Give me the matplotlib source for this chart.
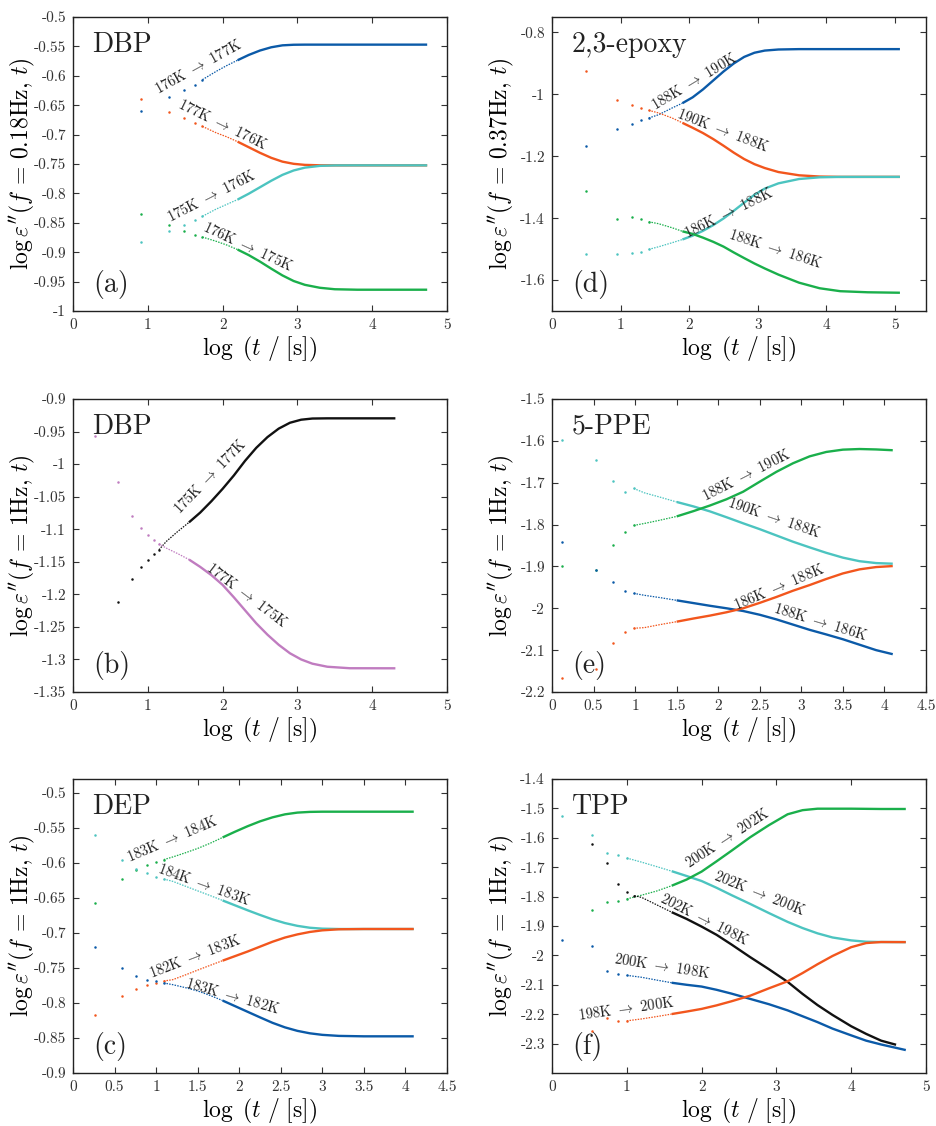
import numpy as np
import matplotlib
matplotlib.use('Agg')
import matplotlib.pyplot as plt
from matplotlib.ticker import FuncFormatter

plt.rcParams['font.family'] = 'cmr10'
plt.rcParams['mathtext.fontset'] = 'cm'
plt.rcParams['axes.unicode_minus'] = False
plt.rcParams['axes.formatter.use_mathtext'] = False

BLUE = '#0b5aa8'
ORANGE = '#f2561d'
CYAN = '#4cc4c0'
GREEN = '#1aaf4b'
PURPLE = '#c07cc0'
BLACK = '#111111'

# ---- (a) DBP, f = 0.18 Hz ----
a_x = [0.913, 1.29, 1.49, 1.63, 1.73, 1.915, 2.05, 2.2, 2.35, 2.5, 2.65, 2.8, 2.95, 3.1, 3.3, 3.5, 3.8, 4.735]
a_blue = [-0.660, -0.6366, -0.6236, -0.615, -0.6066, -0.5924, -0.583, -0.5735, -0.5645, -0.557, -0.5515, -0.5482, -0.5472, -0.547, -0.547, -0.547, -0.547, -0.547]
a_orange = [-0.6395, -0.6616, -0.6724, -0.680, -0.686, -0.697, -0.7035, -0.712, -0.7215, -0.731, -0.7395, -0.746, -0.7497, -0.7515, -0.7522, -0.7523, -0.7523, -0.7523]
a_cyan = [-0.8827, -0.8634, -0.8538, -0.8447, -0.839, -0.8266, -0.819, -0.8105, -0.8005, -0.7895, -0.7785, -0.7685, -0.761, -0.7562, -0.7532, -0.7524, -0.7523, -0.7523]
a_green = [-0.8352, -0.8533, -0.8635, -0.870, -0.8742, -0.8815, -0.8875, -0.8955, -0.905, -0.916, -0.928, -0.9395, -0.949, -0.9555, -0.9605, -0.963, -0.9638, -0.9638]

# ---- (b) DBP, f = 1 Hz ----
b_x = [0.601, 0.784, 0.904, 1.0, 1.08, 1.149, 1.247, 1.4, 1.55, 1.7, 1.85, 2.0, 2.15, 2.3, 2.45, 2.6, 2.75, 2.9, 3.05, 3.2, 3.4, 3.7, 4.31]
b_black = [-1.2119, -1.1766, -1.1582, -1.147, -1.1383, -1.1316, -1.1188, -1.1035, -1.0895, -1.0745, -1.057, -1.038, -1.0175, -0.995, -0.975, -0.9585, -0.9455, -0.9365, -0.9318, -0.930, -0.9297, -0.9297, -0.9297]
b_purple_x = [0.298] + b_x
b_purple = [-0.9562, -1.0268, -1.0795, -1.0984, -1.1096, -1.1173, -1.1224, -1.129, -1.1375, -1.1465, -1.1578, -1.1705, -1.1855, -1.2045, -1.2245, -1.2445, -1.262, -1.2775, -1.2905, -1.300, -1.3065, -1.3112, -1.3135, -1.3136]

# ---- (c) DEP, f = 1 Hz ----
c_x = [0.26, 0.588, 0.764, 0.892, 1.0, 1.092, 1.2, 1.35, 1.5, 1.65, 1.8, 1.95, 2.1, 2.25, 2.4, 2.55, 2.7, 2.85, 3.0, 3.2, 3.5, 4.1]
c_green = [-0.6571, -0.6224, -0.6095, -0.6024, -0.5986, -0.5952, -0.5914, -0.5855, -0.5792, -0.5718, -0.5635, -0.5553, -0.5475, -0.5405, -0.5348, -0.5305, -0.528, -0.527, -0.5267, -0.5267, -0.5267, -0.5267]
c_cyan = [-0.5605, -0.5952, -0.6081, -0.6148, -0.6195, -0.6229, -0.6262, -0.633, -0.6398, -0.6465, -0.6535, -0.6605, -0.6675, -0.6742, -0.6805, -0.6858, -0.6898, -0.6925, -0.6938, -0.6943, -0.6943, -0.6943]
c_orange = [-0.8167, -0.7895, -0.7795, -0.7743, -0.7714, -0.7686, -0.7667, -0.760, -0.753, -0.7462, -0.7395, -0.733, -0.7265, -0.7195, -0.7125, -0.7065, -0.702, -0.6985, -0.6962, -0.6947, -0.6943, -0.6943]
c_blue = [-0.7205, -0.750, -0.7619, -0.7667, -0.769, -0.7714, -0.7738, -0.778, -0.7828, -0.7892, -0.7965, -0.8045, -0.8125, -0.8205, -0.8283, -0.8348, -0.8398, -0.8433, -0.8455, -0.847, -0.8476, -0.8476]

# ---- (d) 2,3-epoxy, f = 0.37 Hz ----
d_x = [0.5, 0.94, 1.163, 1.30, 1.41, 1.556, 1.75, 1.9, 2.05, 2.2, 2.35, 2.5, 2.65, 2.8, 2.95, 3.1, 3.3, 3.6, 3.9, 4.2, 4.6, 5.07]
d_blue = [-1.1656, -1.1129, -1.0957, -1.0839, -1.0763, -1.0656, -1.044, -1.0285, -1.0095, -0.984, -0.955, -0.926, -0.900, -0.879, -0.8655, -0.8585, -0.855, -0.8538, -0.8538, -0.8538, -0.8538, -0.8538]
d_orange = [-0.9237, -1.0172, -1.0333, -1.044, -1.0516, -1.0602, -1.0763, -1.092, -1.108, -1.125, -1.1445, -1.166, -1.1885, -1.209, -1.2255, -1.238, -1.251, -1.2615, -1.2655, -1.2666, -1.2666, -1.2666]
d_cyan = [-1.517, -1.517, -1.5138, -1.5084, -1.5009, -1.4923, -1.4794, -1.469, -1.4565, -1.441, -1.4225, -1.401, -1.376, -1.350, -1.3245, -1.3045, -1.2875, -1.2735, -1.268, -1.2667, -1.2666, -1.2666]
d_green = [-1.3108, -1.402, -1.3957, -1.4041, -1.4117, -1.4181, -1.431, -1.4425, -1.451, -1.463, -1.4765, -1.492, -1.511, -1.529, -1.5465, -1.5625, -1.5825, -1.6085, -1.6265, -1.636, -1.6395, -1.641]

# ---- (e) 5-PPE, f = 1 Hz ----
e_x = [0.12, 0.526, 0.737, 0.876, 0.984, 1.112, 1.3, 1.5, 1.7, 1.9, 2.1, 2.3, 2.5, 2.7, 2.9, 3.1, 3.3, 3.5, 3.7, 3.9, 4.1]
e_cyan = [-1.5986, -1.6463, -1.6948, -1.7218, -1.7138, -1.7242, -1.7345, -1.746, -1.7565, -1.7685, -1.7825, -1.797, -1.811, -1.826, -1.841, -1.8545, -1.8675, -1.879, -1.8875, -1.892, -1.8935]
e_green = [-1.900, -1.9094, -1.8498, -1.8172, -1.8021, -1.7973, -1.7895, -1.7805, -1.768, -1.7545, -1.7395, -1.7215, -1.6975, -1.674, -1.6535, -1.637, -1.6265, -1.621, -1.6195, -1.6205, -1.6224]
e_blue = [-1.8411, -1.9094, -1.9373, -1.9587, -1.9643, -1.969, -1.9745, -1.981, -1.9875, -1.994, -2.000, -2.0065, -2.0155, -2.0265, -2.039, -2.0515, -2.0625, -2.074, -2.087, -2.100, -2.1097]
e_orange = [-2.1654, -2.1455, -2.0835, -2.0565, -2.0478, -2.0462, -2.039, -2.032, -2.0245, -2.0175, -2.0095, -2.000, -1.987, -1.973, -1.958, -1.9445, -1.930, -1.9167, -1.907, -1.9015, -1.8991]

# ---- (f) TPP, f = 1 Hz ----
f_x = [0.54, 0.739, 0.885, 1.0, 1.2, 1.4, 1.6, 1.8, 2.0, 2.2, 2.4, 2.65, 2.9, 3.15, 3.35, 3.55, 3.75, 4.0, 4.2, 4.4, 4.73]
f_cyan_x = [0.133] + f_x
f_cyan = [-1.5243, -1.592, -1.652, -1.6576, -1.6689, -1.683, -1.698, -1.7135, -1.730, -1.747, -1.770, -1.795, -1.825, -1.856, -1.886, -1.907, -1.925, -1.939, -1.949, -1.9535, -1.9545, -1.9548]
f_green = [-1.8452, -1.8192, -1.8136, -1.8079, -1.795, -1.781, -1.763, -1.742, -1.715, -1.680, -1.644, -1.598, -1.557, -1.520, -1.506, -1.501, -1.501, -1.501, -1.5015, -1.502, -1.502]
f_black_x = [0.54, 0.739, 0.885, 1.0, 1.1, 1.2, 1.4, 1.6, 1.8, 2.0, 2.2, 2.4, 2.65, 2.9, 3.15, 3.35, 3.55, 3.75, 4.0, 4.2, 4.4, 4.6]
f_black = [-1.6215, -1.6859, -1.7571, -1.7853, -1.7966, -1.803, -1.828, -1.853, -1.876, -1.902, -1.930, -1.963, -2.006, -2.047, -2.090, -2.131, -2.169, -2.2025, -2.241, -2.267, -2.290, -2.304]
f_blue_x = [0.133] + f_x
f_blue = [-1.948, -1.9684, -2.0531, -2.0644, -2.0678, -2.0745, -2.084, -2.093, -2.100, -2.106, -2.117, -2.130, -2.148, -2.166, -2.187, -2.207, -2.227, -2.249, -2.272, -2.290, -2.303, -2.322]
f_orange = [-2.2565, -2.2113, -2.2226, -2.2226, -2.216, -2.208, -2.1995, -2.191, -2.182, -2.170, -2.156, -2.137, -2.112, -2.088, -2.060, -2.030, -2.002, -1.972, -1.958, -1.9545, -1.9548]


def fmt(v, pos):
    return '%g' % round(v, 4)


def draw(ax, x, y, color, n_dots, thin_until=2.2):
    x = np.asarray(x)
    y = np.asarray(y)
    ax.plot(x[:n_dots], y[:n_dots], 'o', ms=1.8, mew=0, color=color)
    rest_x, rest_y = x[n_dots - 1:], y[n_dots - 1:]
    k = max(int((rest_x <= thin_until).sum()) - 1, 1)
    ax.plot(rest_x[:k + 1], rest_y[:k + 1], '-', lw=0.9, color=color,
            dashes=(1.2, 1.0))
    ax.plot(rest_x[k:], rest_y[k:], '-', lw=1.7, color=color,
            solid_capstyle='butt', solid_joinstyle='round')


def style(ax, xlim, xticks, ylim, yticks, ylabel, name, tag):
    ax.set_xlim(*xlim)
    ax.set_ylim(*ylim)
    ax.set_xticks(xticks)
    ax.set_yticks(yticks)
    ax.xaxis.set_major_formatter(FuncFormatter(fmt))
    ax.yaxis.set_major_formatter(FuncFormatter(fmt))
    ax.tick_params(direction='in', top=True, right=True, length=4,
                   width=0.8, labelsize=11, colors='#333333', pad=5)
    for s in ax.spines.values():
        s.set_color('#222222')
        s.set_linewidth(1.0)
    ax.set_xlabel(r'$\log\ (t\ /\ [\mathrm{s}])$', fontsize=17, labelpad=2)
    ax.set_ylabel(ylabel, fontsize=17)
    ax.yaxis.set_label_coords(-0.097, 0.5)
    ax.text(0.052, 0.95, name, transform=ax.transAxes, fontsize=20,
            va='top', ha='left', color='#222222')
    ax.text(0.055, 0.04, tag, transform=ax.transAxes, fontsize=20,
            va='bottom', ha='left', color='#222222')


def label(ax, x, y, txt, rot):
    ax.text(x, y, txt.replace('->', r'$\rightarrow$'), fontsize=10.5,
            rotation=rot, rotation_mode='anchor', ha='center', va='center',
            color='#222222')


fig = plt.figure(figsize=(9.37, 11.26), dpi=100)
lx, rx, w = 73 / 937, 552 / 937, 374 / 937
rows = [(1 - 311 / 1126, 294 / 1126), (1 - 692 / 1126, 293 / 1126), (1 - 1073 / 1126, 294 / 1126)]

ax_a = fig.add_axes([lx, rows[0][0], w, rows[0][1]])
ax_d = fig.add_axes([rx, rows[0][0], w, rows[0][1]])
ax_b = fig.add_axes([lx, rows[1][0], w, rows[1][1]])
ax_e = fig.add_axes([rx, rows[1][0], w, rows[1][1]])
ax_c = fig.add_axes([lx, rows[2][0], w, rows[2][1]])
ax_f = fig.add_axes([rx, rows[2][0], w, rows[2][1]])

# (a)
draw(ax_a, a_x, a_blue, BLUE, 5)
draw(ax_a, a_x, a_orange, ORANGE, 5)
draw(ax_a, a_x, a_cyan, CYAN, 5)
draw(ax_a, a_x, a_green, GREEN, 5)
style(ax_a, (0, 5), np.arange(0, 5.1, 1), (-1, -0.5), np.arange(-1, -0.49, 0.05),
      r'$\log\varepsilon^{\prime\prime}(f\,=\,0.18\mathrm{Hz},\,t)$', 'DBP', '(a)')
label(ax_a, 1.67, -0.584, '176K -> 177K', 29)
label(ax_a, 2.0, -0.683, '177K -> 176K', -26)
label(ax_a, 1.85, -0.805, '175K -> 176K', 27)
label(ax_a, 2.34, -0.89, '176K -> 175K', -25)

# (b)
draw(ax_b, b_x, b_black, BLACK, 6, thin_until=1.6)
draw(ax_b, b_purple_x, b_purple, PURPLE, 7, thin_until=1.6)
style(ax_b, (0, 5), np.arange(0, 5.1, 1), (-1.35, -0.9), np.arange(-1.35, -0.89, 0.05),
      r'$\log\varepsilon^{\prime\prime}(f\,=\,1\mathrm{Hz},\,t)$', 'DBP', '(b)')
label(ax_b, 1.835, -1.019, '175K -> 177K', 46)
label(ax_b, 2.32, -1.2006, '177K -> 175K', -37)

# (c)
draw(ax_c, c_x, c_green, GREEN, 6, thin_until=1.8)
draw(ax_c, c_x, c_cyan, CYAN, 6, thin_until=1.8)
draw(ax_c, c_x, c_orange, ORANGE, 6, thin_until=1.8)
draw(ax_c, c_x, c_blue, BLUE, 6, thin_until=1.8)
style(ax_c, (0, 4.5), np.arange(0, 4.6, 0.5), (-0.9, -0.48), np.arange(-0.9, -0.49, 0.05),
      r'$\log\varepsilon^{\prime\prime}(f\,=\,1\mathrm{Hz},\,t)$', 'DEP', '(c)')
label(ax_c, 1.2, -0.5657, '183K -> 184K', 23)
label(ax_c, 1.57, -0.631, '184K -> 183K', -20)
label(ax_c, 1.47, -0.733, '182K -> 183K', 21)
label(ax_c, 1.92, -0.79, '183K -> 182K', -16)

# (d)
draw(ax_d, d_x, d_blue, BLUE, 5, thin_until=1.9)
draw(ax_d, d_x, d_orange, ORANGE, 5, thin_until=1.9)
draw(ax_d, d_x, d_cyan, CYAN, 5, thin_until=1.9)
draw(ax_d, d_x, d_green, GREEN, 5, thin_until=1.9)
style(ax_d, (0, 5.45), np.arange(0, 5.1, 1), (-1.7, -0.75), np.arange(-1.6, -0.79, 0.2),
      r'$\log\varepsilon^{\prime\prime}(f\,=\,0.37\mathrm{Hz},\,t)$', '2,3-epoxy', '(d)')
label(ax_d, 2.07, -0.958, '188K -> 190K', 31)
label(ax_d, 2.49, -1.116, '190K -> 188K', -21)
label(ax_d, 2.58, -1.383, '186K -> 188K', 26)
label(ax_d, 3.25, -1.499, '188K -> 186K', -18)

# (e)
draw(ax_e, e_x, e_cyan, CYAN, 5, thin_until=1.6)
draw(ax_e, e_x, e_green, GREEN, 5, thin_until=1.6)
draw(ax_e, e_x, e_blue, BLUE, 5, thin_until=1.6)
draw(ax_e, e_x, e_orange, ORANGE, 5, thin_until=1.6)
style(ax_e, (0, 4.5), np.arange(0, 4.6, 0.5), (-2.2, -1.5), np.arange(-2.2, -1.49, 0.1),
      r'$\log\varepsilon^{\prime\prime}(f\,=\,1\mathrm{Hz},\,t)$', '5-PPE', '(e)')
label(ax_e, 2.34, -1.683, '188K -> 190K', 27)
label(ax_e, 2.67, -1.784, '190K -> 188K', -19)
label(ax_e, 2.74, -1.948, '186K -> 188K', 23)
label(ax_e, 3.23, -2.032, '188K -> 186K', -17)

# (f)
draw(ax_f, f_cyan_x, f_cyan, CYAN, 5, thin_until=1.6)
draw(ax_f, f_x, f_green, GREEN, 4, thin_until=1.6)
draw(ax_f, f_black_x, f_black, BLACK, 5, thin_until=1.6)
draw(ax_f, f_blue_x, f_blue, BLUE, 5, thin_until=1.6)
draw(ax_f, f_x, f_orange, ORANGE, 4, thin_until=1.6)
style(ax_f, (0, 5), np.arange(0, 5.1, 1), (-2.4, -1.4), np.arange(-2.3, -1.39, 0.1),
      r'$\log\varepsilon^{\prime\prime}(f\,=\,1\mathrm{Hz},\,t)$', 'TPP', '(f)')
label(ax_f, 2.345, -1.600, '200K -> 202K', 33)
label(ax_f, 2.77, -1.7876, '202K -> 200K', -22)
label(ax_f, 2.035, -1.8757, '202K -> 198K', -27)
label(ax_f, 1.47, -2.038, '200K -> 198K', -9)
label(ax_f, 0.995, -2.183, '198K -> 200K', 8)

fig.savefig('out.png', dpi=100)
